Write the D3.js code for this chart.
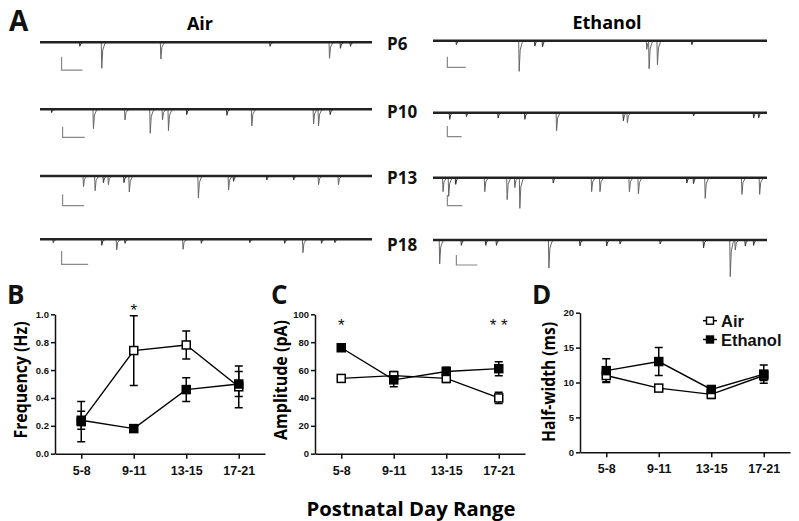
<!DOCTYPE html>
<html>
<head>
<meta charset="utf-8">
<script src="https://cdn.jsdelivr.net/npm/d3@7"></script>
<style>
  body { margin: 0; background: #fff; }
  svg { display: block; }
  .tick text { font-family: "Liberation Sans", Arial, sans-serif; font-weight: bold; fill: #111; }
  .axis path, .axis line { stroke: #111; }
</style>
</head>
<body>
<svg id="chart" width="799" height="521"></svg>
<script>
// ============================================================
// DATA
// ============================================================
const ages = ['5-8', '9-11', '13-15', '17-21'];
const groups = ['Air', 'Ethanol'];

// panel B: frequency (Hz), mean and SEM
const freqAir = [0.23, 0.74, 0.78, 0.48];
const freqAirErr = [0.145, 0.25, 0.10, 0.15];
const freqEth = [0.24, 0.18, 0.46, 0.50];
const freqEthErr = [0.065, 0.02, 0.085, 0.09];
const freqTicks = [0, 0.2, 0.4, 0.6, 0.8, 1.0];

// panel C: amplitude (pA)
const ampAir = [54, 56, 54, 40];
const ampAirErr = [2, 3, 3, 4];
const ampEth = [76, 53, 59, 61];
const ampEthErr = [2, 5, 3, 5];
const ampTicks = [0, 20, 40, 60, 80, 100];

// panel D: half-width (ms)
const hwAir = [11.0, 9.2, 8.3, 11.0];
const hwAirErr = [0.9, 0.3, 0.6, 0.7];
const hwEth = [11.7, 13.0, 9.0, 11.2];
const hwEthErr = [1.7, 2.0, 0.4, 1.3];
const hwTicks = [0, 5, 10, 15, 20];

// panel A: sEPSC events per sweep, [time as fraction of sweep, amplitude pA]
const ages2 = ['P6', 'P10', 'P13', 'P18'];
const airEvents = [
  [[0.12, 6], [0.186, 39], [0.364, 25], [0.693, 6], [0.872, 24], [0.905, 9], [0.935, 6]],
  [[0.035, 5], [0.161, 29], [0.256, 16], [0.332, 36], [0.369, 16], [0.387, 32], [0.442, 8], [0.563, 9], [0.638, 25], [0.824, 22], [0.839, 25], [0.874, 8]],
  [[0.131, 16], [0.166, 22], [0.191, 10], [0.206, 13], [0.253, 10], [0.269, 24], [0.477, 33], [0.568, 21], [0.583, 8], [0.683, 6], [0.764, 6], [0.839, 13], [0.899, 13]],
  [[0.04, 5], [0.186, 9], [0.231, 16], [0.256, 6], [0.431, 15], [0.486, 6], [0.632, 5], [0.737, 6], [0.792, 20], [0.848, 6], [0.888, 5]]
];
const ethEvents = [
  [[0.07, 6], [0.258, 46], [0.305, 8], [0.328, 9], [0.64, 13], [0.647, 42], [0.672, 36], [0.775, 6]],
  [[0.05, 10], [0.10, 6], [0.195, 8], [0.275, 10], [0.37, 27], [0.57, 12], [0.582, 15], [0.78, 5], [0.96, 8], [0.975, 8]],
  [[0.03, 21], [0.047, 28], [0.068, 10], [0.155, 21], [0.222, 33], [0.245, 15], [0.26, 46], [0.36, 8], [0.475, 21], [0.5, 21], [0.588, 21], [0.615, 24], [0.76, 8], [0.78, 9], [0.815, 31], [0.925, 25], [0.978, 25]],
  [[0.02, 36], [0.085, 8], [0.158, 8], [0.19, 8], [0.347, 42], [0.44, 9], [0.52, 9], [0.56, 6], [0.68, 6], [0.81, 12], [0.89, 55], [0.905, 15], [0.935, 9], [0.96, 8]]
];
// scale bars: [start, width] as sweep fraction, height in pA
const airBars = [[0.065, 0.063, 20], [0.068, 0.067, 16], [0.068, 0.065, 17], [0.065, 0.08, 20]];
const ethBars = [[0.043, 0.055, 16], [0.043, 0.043, 16], [0.043, 0.045, 16], [0.07, 0.063, 15]];

// ============================================================
// SETUP
// ============================================================
const svg = d3.select('#chart');
const HEAD = '"Open Sans", "DejaVu Sans", sans-serif';
const ARIAL = '"Liberation Sans", Arial, sans-serif';

function panelLetter(txt, x, y, size) {
  svg.append('text').attr('x', x).attr('y', y)
    .attr('font-family', HEAD).attr('font-weight', 'bold').attr('font-size', size)
    .attr('fill', '#111').text(txt);
}

// ============================================================
// PANEL A: TRACES
// ============================================================
panelLetter('A', 9, 31, 28);
svg.append('text').attr('x', 200).attr('y', 30).attr('text-anchor', 'middle')
  .attr('font-family', HEAD).attr('font-weight', 'bold').attr('font-size', 18).text('Air');
svg.append('text').attr('x', 607).attr('y', 29).attr('text-anchor', 'middle')
  .attr('font-family', HEAD).attr('font-weight', 'bold').attr('font-size', 18).text('Ethanol');

const airBase = [42.3, 109.3, 176, 239.3];
const ethBase = [40.7, 112.7, 177.7, 240];
const airBarTop = [56.7, 126.7, 194.3, 251];
const ethBarTop = [56.7, 126, 195, 255];
const labelY = [50, 118, 184, 251];
const ampScale = d3.scaleLinear().domain([0, 60]).range([0, 40]);

function drawTrace(events, bar, x0, x1, base, barTop) {
  const tx = d3.scaleLinear().domain([0, 1]).range([x0, x1]);
  const g = svg.append('g');
  const ev = d3.line().x(d => d[0]).y(d => d[1]);
  events.forEach(e => {
    const x = tx(e[0]);
    const a = ampScale(e[1]);
    const pts = [[x - 0.5, base], [x, base + a], [x + 1, base + a * 0.3], [x + 3, base + a * 0.06], [x + 5, base]];
    g.append('path').attr('d', ev(pts)).attr('fill', 'none')
      .attr('stroke', a > 8 ? '#666' : '#333').attr('stroke-width', 1);
  });
  g.append('line').attr('x1', x0).attr('x2', x1).attr('y1', base).attr('y2', base)
    .attr('stroke', '#222').attr('stroke-width', 2.6);
  const bx = tx(bar[0]);
  const bw = tx(bar[1]) - tx(0);
  const bh = ampScale(bar[2]);
  g.append('path').attr('d', `M${bx},${barTop}V${barTop + bh}H${bx + bw}`)
    .attr('fill', 'none').attr('stroke', '#888').attr('stroke-width', 1.2);
}

ages2.forEach((lab, i) => {
  drawTrace(airEvents[i], airBars[i], 40, 372, airBase[i], airBarTop[i]);
  drawTrace(ethEvents[i], ethBars[i], 433, 767, ethBase[i], ethBarTop[i]);
  svg.append('text').attr('x', 387).attr('y', labelY[i])
    .attr('font-family', HEAD).attr('font-weight', 'bold').attr('font-size', 17)
    .attr('fill', '#111').text(lab);
});

// ============================================================
// PANELS B-D: LINE PLOTS
// ============================================================
function drawPlot(opt) {
  const x = d3.scalePoint().domain(ages).range([opt.left, opt.right]).padding(0.5);
  const y = d3.scaleLinear().domain([0, opt.max]).range([opt.bottom, opt.top]);
  const g = svg.append('g');

  const xAxis = g.append('g').attr('class', 'axis').attr('transform', `translate(0,${opt.bottom})`)
    .call(d3.axisBottom(x).tickSize(5).tickSizeOuter(0).tickPadding(7));
  xAxis.selectAll('text').attr('font-size', 12.5);
  const yAxis = g.append('g').attr('class', 'axis').attr('transform', `translate(${opt.left},0)`)
    .call(d3.axisLeft(y).tickValues(opt.ticks).tickSize(4).tickSizeOuter(0).tickPadding(2)
      .tickFormat(opt.fmt));
  yAxis.selectAll('text').attr('font-size', 9.5);
  g.selectAll('.axis path, .axis line').attr('stroke-width', 1.5);

  // y axis title
  g.append('text').attr('transform', `translate(${opt.titleX},${opt.titleY}) rotate(-90)`)
    .attr('text-anchor', 'middle').attr('dominant-baseline', 'central')
    .attr('font-family', HEAD).attr('font-weight', 'bold').attr('font-size', 18)
    .attr('textLength', opt.titleLen).attr('lengthAdjust', 'spacingAndGlyphs')
    .text(opt.title);

  const series = [
    { name: 'Air', mean: opt.air, err: opt.airErr, fill: '#fff' },
    { name: 'Ethanol', mean: opt.eth, err: opt.ethErr, fill: '#000' }
  ];
  const line = d3.line().x((d, i) => x(ages[i])).y(d => y(d));
  series.forEach(s => {
    g.append('path').attr('d', line(s.mean)).attr('fill', 'none')
      .attr('stroke', '#000').attr('stroke-width', 1.4);
  });
  series.forEach(s => {
    s.mean.forEach((m, i) => {
      const cx = x(ages[i]);
      const hi = y(m + s.err[i]), lo = y(m - s.err[i]);
      g.append('path').attr('d', `M${cx},${hi}V${lo}M${cx - 4},${hi}H${cx + 4}M${cx - 4},${lo}H${cx + 4}`)
        .attr('stroke', '#000').attr('stroke-width', 1.5).attr('fill', 'none');
    });
  });
  series.forEach(s => {
    g.selectAll(null).data(s.mean).enter().append('rect')
      .attr('x', (d, i) => x(ages[i]) - 4).attr('y', d => y(d) - 4)
      .attr('width', 8).attr('height', 8)
      .attr('fill', s.fill).attr('stroke', '#000').attr('stroke-width', 1.5);
  });
  // significance marks
  (opt.stars || []).forEach(st => {
    g.append('text').attr('x', x(st[0])).attr('y', opt.starY).attr('text-anchor', 'middle')
      .attr('font-family', ARIAL).attr('font-size', 17).attr('fill', '#111').text(st[1]);
  });
  return { x, y, g };
}

panelLetter('B', 7, 304, 26);
drawPlot({ left: 55, right: 265, top: 314.3, bottom: 453.7, max: 1.0, ticks: freqTicks,
  fmt: d3.format('.1f'), air: freqAir, airErr: freqAirErr, eth: freqEth, ethErr: freqEthErr,
  title: 'Frequency (Hz)', titleX: 20, titleY: 380, titleLen: 117, stars: [['9-11', '*']], starY: 316 });

panelLetter('C', 271, 304, 26);
drawPlot({ left: 315, right: 525, top: 314.3, bottom: 453.7, max: 100, ticks: ampTicks,
  fmt: d3.format('d'), air: ampAir, airErr: ampAirErr, eth: ampEth, ethErr: ampEthErr,
  title: 'Amplitude (pA)', titleX: 280, titleY: 380, titleLen: 120,
  stars: [['5-8', '*'], ['17-21', '* *']], starY: 331 });

panelLetter('D', 532, 304, 26);
drawPlot({ left: 580, right: 790, top: 312.7, bottom: 452.3, max: 20, ticks: hwTicks,
  fmt: d3.format('d'), air: hwAir, airErr: hwAirErr, eth: hwEth, ethErr: hwEthErr,
  title: 'Half-width (ms)', titleX: 548, titleY: 382, titleLen: 120 });

// legend
const legY = [320.7, 339.5];
groups.forEach((name, i) => {
  const lg = svg.append('g');
  lg.append('line').attr('x1', 703).attr('x2', 717).attr('y1', legY[i]).attr('y2', legY[i])
    .attr('stroke', '#000').attr('stroke-width', 1.5);
  lg.append('rect').attr('x', 706.5).attr('y', legY[i] - 3.5).attr('width', 7).attr('height', 7)
    .attr('fill', i === 0 ? '#fff' : '#000').attr('stroke', '#000').attr('stroke-width', 1.4);
  lg.append('text').attr('x', 721).attr('y', legY[i]).attr('dominant-baseline', 'central')
    .attr('font-family', ARIAL).attr('font-weight', 'bold').attr('font-size', 16.5)
    .attr('fill', '#111').text(name);
});

// shared x title
svg.append('text').attr('x', 411).attr('y', 516).attr('text-anchor', 'middle')
  .attr('font-family', HEAD).attr('font-weight', 'bold').attr('font-size', 19)
  .attr('textLength', 209).attr('lengthAdjust', 'spacingAndGlyphs')
  .text('Postnatal Day Range');
</script>
</body>
</html>
